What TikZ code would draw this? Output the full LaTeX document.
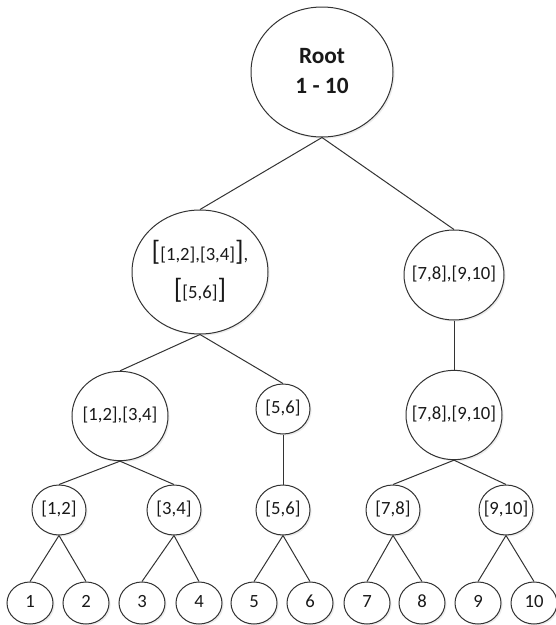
\documentclass[tikz,border=0pt]{standalone}
\usepackage{fontspec}
\setmainfont{Carlito}
\usetikzlibrary{shapes.geometric,shadows}

\newcommand{\cellbox}[1]{\makebox[0pt]{\begin{tabular}{@{}c@{}}#1\end{tabular}}}
\newcommand{\bigbrk}[1]{{\fontsize{21}{21}\selectfont#1}}

\tikzset{
  ring/.style={ellipse,draw=black!80,line width=0.75pt,fill=white,inner sep=0pt,
    text=black!90,font=\fontsize{14}{17}\selectfont,
    drop shadow={shadow xshift=1.2pt,shadow yshift=-1.2pt,opacity=0.15}},
  bignode/.style={ring,minimum width=102pt,minimum height=93pt},
  midnode/.style={ring,minimum width=72pt,minimum height=67pt},
  smallnode/.style={ring,minimum width=40.5pt,minimum height=37.5pt},
  leafnode/.style={ring,minimum width=34.5pt,minimum height=31.5pt},
  edge/.style={draw=black!80,line width=0.75pt}
}

\begin{document}
\begin{tikzpicture}[x=0.75pt,y=-0.75pt]
\useasboundingbox (0,0) rectangle (556,625);
% root
        \node[ring,minimum width=106.5pt,minimum height=97.5pt,
          font=\fontsize{17.5}{22.5}\selectfont\bfseries] (root) at (322,72)
          {\cellbox{Root\\1 - 10}};
% second row
        \node[bignode,font=\fontsize{14}{28}\selectfont] (l) at (200,272)
          {\cellbox{\bigbrk{[}[1,2],[3,4]\bigbrk{]},\\\bigbrk{[}[5,6]\bigbrk{]}}};
        \node[ring,minimum width=75pt,minimum height=67.5pt] (r) at (454,275) {\cellbox{[7,8],[9,10]}};
% third row
        \node[midnode] (ll) at (120,416) {\cellbox{[1,2],[3,4]}};
        \node[smallnode] (lr) at (283,409) {\cellbox{[5,6]}};
        \node[midnode] (rr) at (454,415) {\cellbox{[7,8],[9,10]}};
% fourth row
        \node[smallnode] (p12) at (59,510) {\cellbox{[1,2]}};
        \node[smallnode] (p34) at (174,510) {\cellbox{[3,4]}};
        \node[smallnode] (p56) at (283,510) {\cellbox{[5,6]}};
        \node[smallnode] (p78) at (393,510) {\cellbox{[7,8]}};
        \node[smallnode] (p910) at (506,510) {\cellbox{[9,10]}};
% leaves
        \node[leafnode] (n1) at (30,603) {\cellbox{1}};
        \node[leafnode] (n2) at (86,603) {\cellbox{2}};
        \node[leafnode] (n3) at (142,603) {\cellbox{3}};
        \node[leafnode] (n4) at (199,603) {\cellbox{4}};
        \node[leafnode] (n5) at (254,603) {\cellbox{5}};
        \node[leafnode] (n6) at (310,603) {\cellbox{6}};
        \node[leafnode] (n7) at (367,603) {\cellbox{7}};
        \node[leafnode] (n8) at (422,603) {\cellbox{8}};
        \node[leafnode] (n9) at (478,603) {\cellbox{9}};
        \node[leafnode] (n10) at (534,603) {\cellbox{10}};
% edges
        \draw [edge] (root.south) -- (l.north);
        \draw [edge] (root.south) -- (r.north);
        \draw [edge] (l.south) -- (ll.north);
        \draw [edge] (l.south) -- (lr.north);
        \draw [edge] (r.south) -- (rr.north);
        \draw [edge] (ll.south) -- (p12.north);
        \draw [edge] (ll.south) -- (p34.north);
        \draw [edge] (lr.south) -- (p56.north);
        \draw [edge] (rr.south) -- (p78.north);
        \draw [edge] (rr.south) -- (p910.north);
        \draw [edge] (p12.south) -- (n1.north);
        \draw [edge] (p12.south) -- (n2.north);
        \draw [edge] (p34.south) -- (n3.north);
        \draw [edge] (p34.south) -- (n4.north);
        \draw [edge] (p56.south) -- (n5.north);
        \draw [edge] (p56.south) -- (n6.north);
        \draw [edge] (p78.south) -- (n7.north);
        \draw [edge] (p78.south) -- (n8.north);
        \draw [edge] (p910.south) -- (n9.north);
        \draw [edge] (p910.south) -- (n10.north);
\end{tikzpicture}
\end{document}
